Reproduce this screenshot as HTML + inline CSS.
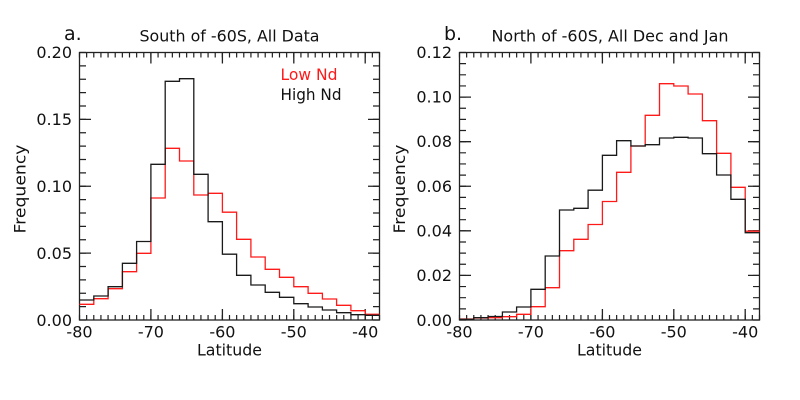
<!DOCTYPE html>
<html><head><meta charset="utf-8"><style>
html,body{margin:0;padding:0;background:#fff;}
svg{display:block;}
text{font-family:"DejaVu Sans","Liberation Sans",sans-serif;fill:#111;}
</style></head><body>
<svg width="800" height="400" viewBox="0 0 800 400" xmlns="http://www.w3.org/2000/svg">
<rect width="800" height="400" fill="#fff"/>

<!-- ===== Panel a ===== -->
<g stroke="#222" fill="none" stroke-width="1.3">
  <rect x="79.5" y="52.5" width="300" height="267.5"/>
  <!-- minor x ticks bottom/top -->
  <path d="M78.9,317.5 H380.5" stroke-width="5" stroke-dasharray="1.2 5.9429"/>
  <path d="M78.9,55 H380.5" stroke-width="5" stroke-dasharray="1.2 5.9429"/>
  <!-- minor y ticks left/right -->
  <path d="M82.75,51.9 V321" stroke-width="6.5" stroke-dasharray="1.2 12.175"/>
  <path d="M376.25,51.9 V321" stroke-width="6.5" stroke-dasharray="1.2 12.175"/>
  <!-- major x ticks -->
  <path d="M150.9,320 v-11 M222.4,320 v-11 M293.8,320 v-11 M365.2,320 v-11
           M150.9,52.5 v11 M222.4,52.5 v11 M293.8,52.5 v11 M365.2,52.5 v11"/>
  <!-- major y ticks -->
  <path d="M79.5,253.1 h11.5 M79.5,186.25 h11.5 M79.5,119.4 h11.5
           M379.5,253.1 h-11.5 M379.5,186.25 h-11.5 M379.5,119.4 h-11.5"/>
</g>
<path fill="none" stroke="#ff1a1a" stroke-width="1.3" d="M79.5,304.3 H93.8 V298.7 H108.1 V288.7 H122.4 V271.7 H136.6 V253.3 H150.9 V198 H165.2 V148.3 H179.5 V161 H193.8 V195 H208.1 V193.3 H222.4 V212.2 H236.6 V239.3 H250.9 V257 H265.2 V269.3 H279.5 V277.3 H293.8 V286.7 H308.1 V293.3 H322.4 V299 H336.6 V305.3 H350.9 V310.7 H365.2 V314.3 H379.5"/>
<path fill="none" stroke="#1a1a1a" stroke-width="1.3" d="M79.5,300 H93.8 V296 H108.1 V286.7 H122.4 V263.3 H136.6 V241.5 H150.9 V164.3 H165.2 V81.3 H179.5 V78.7 H193.8 V174.3 H208.1 V221.7 H222.4 V254.2 H236.6 V275.3 H250.9 V285 H265.2 V292.3 H279.5 V297.3 H293.8 V303.7 H308.1 V307 H322.4 V310 H336.6 V312.7 H350.9 V314.7 H365.2 V315.3 H379.5"/>

<g font-size="16">
  <text x="64" y="40" font-size="19">a.</text>
  <text x="229.5" y="41.5" text-anchor="middle" textLength="180" lengthAdjust="spacingAndGlyphs">South of -60S, All Data</text>
  <text x="72" y="58" text-anchor="end">0.20</text>
  <text x="72" y="125" text-anchor="end">0.15</text>
  <text x="72" y="192" text-anchor="end">0.10</text>
  <text x="72" y="259" text-anchor="end">0.05</text>
  <text x="72" y="326" text-anchor="end">0.00</text>
  <text x="79.5" y="337.5" text-anchor="middle">-80</text>
  <text x="150.9" y="337.5" text-anchor="middle">-70</text>
  <text x="222.4" y="337.5" text-anchor="middle">-60</text>
  <text x="293.8" y="337.5" text-anchor="middle">-50</text>
  <text x="365.2" y="337.5" text-anchor="middle">-40</text>
  <text x="229.5" y="355.5" text-anchor="middle" textLength="65" lengthAdjust="spacingAndGlyphs">Latitude</text>
  <text transform="translate(25.5,189) rotate(-90)" text-anchor="middle" textLength="89" lengthAdjust="spacingAndGlyphs">Frequency</text>
  <text x="280.5" y="80" style="fill:#ff1a1a" textLength="57" lengthAdjust="spacingAndGlyphs">Low Nd</text>
  <text x="280.5" y="100" textLength="61" lengthAdjust="spacingAndGlyphs">High Nd</text>
</g>

<!-- ===== Panel b ===== -->
<g stroke="#222" fill="none" stroke-width="1.3">
  <rect x="459.5" y="52.5" width="300" height="267.5"/>
  <path d="M458.9,317.5 H760.5" stroke-width="5" stroke-dasharray="1.2 5.9429"/>
  <path d="M458.9,55 H760.5" stroke-width="5" stroke-dasharray="1.2 5.9429"/>
  <path d="M462.75,51.9 V321" stroke-width="6.5" stroke-dasharray="1.2 9.946"/>
  <path d="M756.25,51.9 V321" stroke-width="6.5" stroke-dasharray="1.2 9.946"/>
  <path d="M530.9,320 v-11 M602.4,320 v-11 M673.8,320 v-11 M745.2,320 v-11
           M530.9,52.5 v11 M602.4,52.5 v11 M673.8,52.5 v11 M745.2,52.5 v11"/>
  <path d="M459.5,275.4 h11.5 M459.5,230.8 h11.5 M459.5,186.25 h11.5 M459.5,141.7 h11.5 M459.5,97.1 h11.5
           M759.5,275.4 h-11.5 M759.5,230.8 h-11.5 M759.5,186.25 h-11.5 M759.5,141.7 h-11.5 M759.5,97.1 h-11.5"/>
</g>
<path fill="none" stroke="#ff1a1a" stroke-width="1.3" d="M459.5,319 H473.8 V318 H488.1 V317.7 H502.4 V316.7 H516.6 V314.3 H530.9 V306.7 H545.2 V287.7 H559.5 V250.7 H573.8 V239.3 H588.1 V224.5 H602.4 V201.5 H616.6 V172.3 H630.9 V146 H645.2 V115.3 H659.5 V83.7 H673.8 V86 H688.1 V94 H702.4 V120.7 H716.6 V153.3 H730.9 V187.3 H745.2 V231.2 H759.5"/>
<path fill="none" stroke="#1a1a1a" stroke-width="1.3" d="M459.5,319.3 H473.8 V317.7 H488.1 V316.5 H502.4 V312 H516.6 V307 H530.9 V289.3 H545.2 V256 H559.5 V210 H573.8 V208.3 H588.1 V190.2 H602.4 V155.3 H616.6 V140.7 H630.9 V146 H645.2 V144.7 H659.5 V138 H673.8 V137.3 H688.1 V138 H702.4 V153.7 H716.6 V175 H730.9 V199.3 H745.2 V232.7 H759.5"/>

<g font-size="16">
  <text x="444" y="40" font-size="19">b.</text>
  <text x="610" y="41.5" text-anchor="middle" textLength="237" lengthAdjust="spacingAndGlyphs">North of -60S, All Dec and Jan</text>
  <text x="452" y="58" text-anchor="end">0.12</text>
  <text x="452" y="102.6" text-anchor="end">0.10</text>
  <text x="452" y="147.2" text-anchor="end">0.08</text>
  <text x="452" y="191.8" text-anchor="end">0.06</text>
  <text x="452" y="236.3" text-anchor="end">0.04</text>
  <text x="452" y="280.9" text-anchor="end">0.02</text>
  <text x="452" y="326" text-anchor="end">0.00</text>
  <text x="459.5" y="337.5" text-anchor="middle">-80</text>
  <text x="530.9" y="337.5" text-anchor="middle">-70</text>
  <text x="602.4" y="337.5" text-anchor="middle">-60</text>
  <text x="673.8" y="337.5" text-anchor="middle">-50</text>
  <text x="745.2" y="337.5" text-anchor="middle">-40</text>
  <text x="609.5" y="355.5" text-anchor="middle" textLength="65" lengthAdjust="spacingAndGlyphs">Latitude</text>
  <text transform="translate(405,189) rotate(-90)" text-anchor="middle" textLength="89" lengthAdjust="spacingAndGlyphs">Frequency</text>
</g>
</svg>
</body></html>
